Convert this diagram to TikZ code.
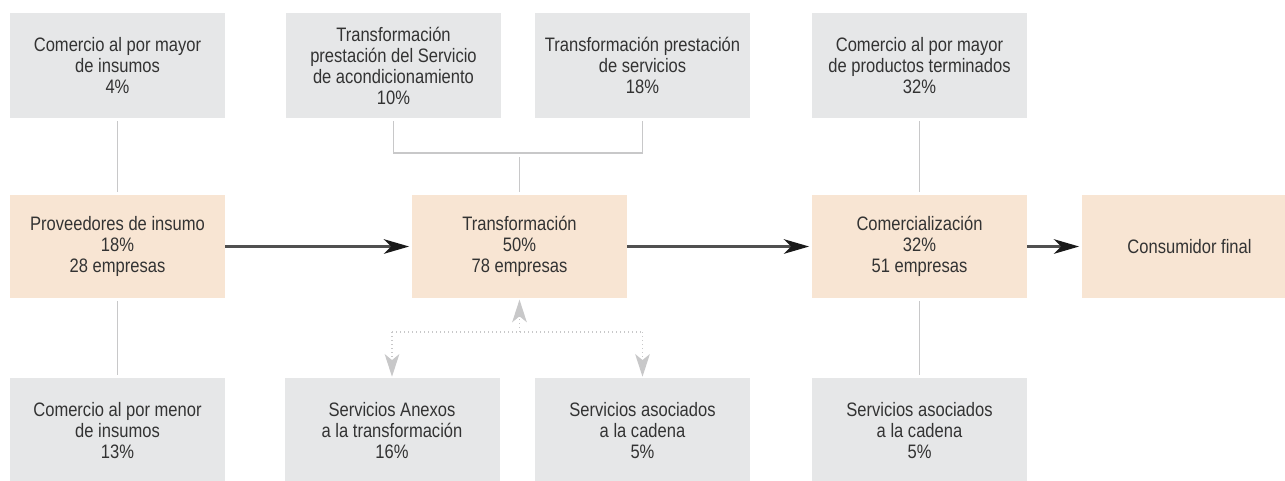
\documentclass[tikz,border=0pt]{standalone}
\usepackage{fontspec}
\setmainfont{Liberation Sans}[FakeStretch=0.85]
\definecolor{mBoxGray}{HTML}{E6E7E8}
\definecolor{mBoxPeach}{HTML}{F8E5D3}
\definecolor{mText}{HTML}{333333}
\definecolor{mLink}{HTML}{C8C8C9}
\definecolor{mArrow}{HTML}{505050}
\definecolor{mArrowTip}{HTML}{1A1A1A}
\usetikzlibrary{positioning,arrows.meta,calc}

\tikzset{
  box/.style={minimum width=161.25pt, minimum height=79pt, inner sep=0pt,
    align=center, text=mText, font=\fontsize{14.6}{15.75}\selectfont},
  graybox/.style={box, fill=mBoxGray},
  peachbox/.style={box, fill=mBoxPeach, minimum height=77.25pt},
  link/.style={mLink, line width=1.1pt, shorten <=2.25pt, shorten >=2.25pt},
  dotlink/.style={mLink, line width=1pt, dotted},
  flow/.style={-{Stealth[length=19pt, width=11pt, inset=5.5pt, color=mArrowTip]},
    mArrow, line width=1.6pt, shorten >=2pt},
  dottip/.style={-{Stealth[length=17pt, width=11pt, inset=4.5pt]}, shorten >=1pt},
}

\begin{document}
\begin{tikzpicture}[x=0.75pt, y=-0.75pt]
\useasboundingbox (0,0) rectangle (1285,480);
% upper row
\node[graybox] (wholesaleIn) at (117.5,65.5) {Comercio al por mayor\\de insumos\\4\%};
\node[graybox] (condServ) at (393.5,65.5) {Transformación\\prestación del Servicio\\de acondicionamiento\\10\%};
\node[graybox] (procServ) at (642.5,65.5) {Transformación prestación\\de servicios\\18\%};
\node[graybox] (wholesaleOut) at (919.5,65.5) {Comercio al por mayor\\de productos terminados\\32\%};
% main chain
\node[peachbox] (supply) at (117.5,246.5) {Proveedores de insumo\\18\%\\28 empresas};
\node[peachbox] (transf) at (519.5,246.5) {Transformación\\50\%\\78 empresas};
\node[peachbox] (market) at (919.5,246.5) {Comercialización\\32\%\\51 empresas};
\node[peachbox] (consumer) at (1189.5,246.5) {Consumidor final};
% lower row
\node[graybox] (retailIn) at (117.5,431) {Comercio al por menor\\de insumos\\13\%};
\node[graybox] (annexServ) at (392,431) {Servicios Anexos\\a la transformación\\16\%};
\node[graybox] (chainServ) at (642.5,431) {Servicios asociados\\a la cadena\\5\%};
\node[graybox] (chainServB) at (919.5,431) {Servicios asociados\\a la cadena\\5\%};
% flow arrows
\draw[flow] (supply) -- (transf);
\draw[flow] (transf) -- (market);
\draw[flow] (market) -- (consumer);
% plain links
\draw[link] (wholesaleIn) -- (supply);
\draw[link] (supply) -- (retailIn);
\draw[link] (wholesaleOut) -- (market);
\draw[link] (market) -- (chainServB);
\coordinate (bar) at (0,153);
\draw[mLink, line width=1.1pt, shorten <=2.25pt] (condServ.south) -- (condServ.south |- bar) -- (procServ.south |- bar) -- ([yshift=-2.25pt]procServ.south);
\draw[link, shorten >=0pt] (transf.north) -- ++(0,-38);
% dotted service links
\coordinate (hub) at (0,332);
\draw[dotlink] (annexServ.north |- hub) -- (chainServ.north |- hub);
\draw[dotlink, dottip] (transf.south |- hub) -- (transf.south);
\draw[dotlink, dottip] (annexServ.north |- hub) -- (annexServ.north);
\draw[dotlink, dottip] (chainServ.north |- hub) -- (chainServ.north);
\end{tikzpicture}
\end{document}
